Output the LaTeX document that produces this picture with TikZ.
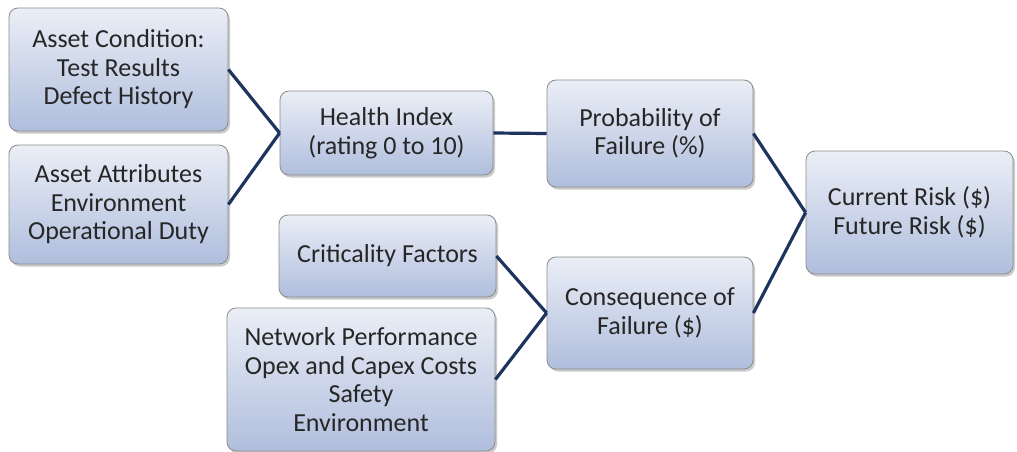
\documentclass[tikz,border=0pt]{standalone}
\usepackage{fontspec}
\setmainfont{Carlito}
\usetikzlibrary{shadows}
\definecolor{linkc}{RGB}{29,53,94}
\definecolor{boxtop}{RGB}{234,238,246}
\definecolor{boxbot}{RGB}{176,190,221}
\definecolor{boxedge}{RGB}{140,140,140}
\tikzset{
  box/.style={draw=boxedge, line width=0.8pt, rounded corners=9pt,
    top color=boxtop, bottom color=boxbot, inner sep=0pt, align=center,
    font=\fontsize{26}{28.5}\selectfont, text=black!85,
    drop shadow={shadow xshift=2pt, shadow yshift=-2.5pt, opacity=0.35, fill=black!60}},
  link/.style={draw=linkc, line width=3.2pt}
}
\begin{document}
\begin{tikzpicture}[x=1pt,y=-1pt]
\useasboundingbox (0,0) rectangle (1017,452);
\node[box, minimum width=219pt, minimum height=123pt] (ac) at (118.5,69.5) {Asset Condition:\\Test Results\\Defect History};
\node[box, minimum width=219pt, minimum height=119pt] (aa) at (118.5,204.5) {Asset Attributes\\Environment\\Operational Duty};
\node[box, minimum width=213pt, minimum height=84pt] (hi) at (386.5,133) {Health Index\\(rating 0 to 10)};
\node[box, minimum width=206pt, minimum height=107pt] (pof) at (650,133.5) {Probability of\\Failure (\%)};
\node[box, minimum width=217pt, minimum height=82pt] (cf) at (387.5,256) {Criticality Factors};
\node[box, minimum width=268pt, minimum height=143pt] (np) at (361,379.5) {Network Performance\\Opex and Capex Costs\\Safety\\Environment};
\node[box, minimum width=206pt, minimum height=112pt] (cof) at (650,313) {Consequence of\\Failure (\$)};
\node[box, minimum width=207pt, minimum height=123pt] (risk) at (909.5,212.5) {Current Risk (\$)\\Future Risk (\$)};
\draw[link] (ac.east) -- (hi.west);
\draw[link] (aa.east) -- (hi.west);
\draw[link] (hi.east) -- (pof.west);
\draw[link] (cf.east) -- (cof.west);
\draw[link] (np.east) -- (cof.west);
\draw[link] (pof.east) -- (risk.west);
\draw[link] (cof.east) -- (risk.west);
\end{tikzpicture}
\end{document}
